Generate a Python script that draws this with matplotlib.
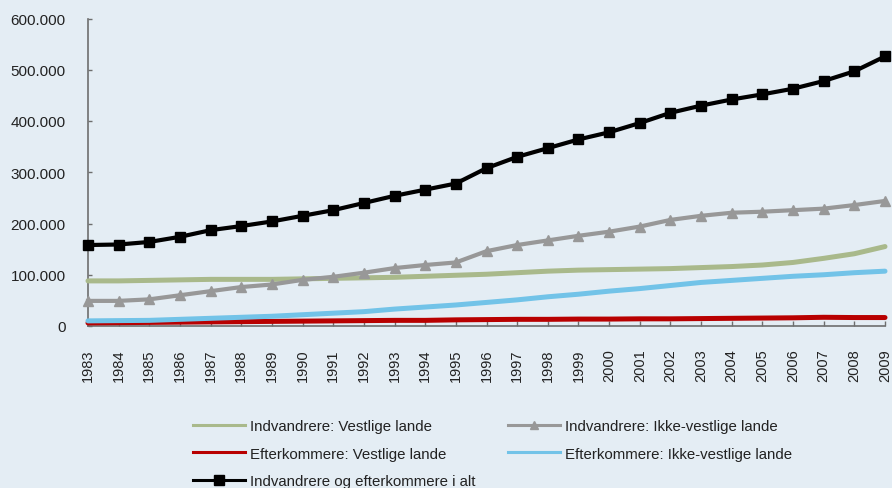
import matplotlib
matplotlib.use("Agg")
import matplotlib.pyplot as plt
from matplotlib.lines import Line2D
from matplotlib.ticker import FuncFormatter, MultipleLocator

years = list(range(1983, 2010))
total = [158, 159, 164, 174, 187, 195, 204, 215, 226, 240, 254, 266, 278, 308,
         330, 347, 364, 378, 396, 416, 430, 442, 452, 463, 478, 497, 526]
ikke_imm = [49, 49, 52, 60, 68, 76, 81, 90, 96, 104, 113, 119, 124, 146,
            158, 167, 176, 184, 194, 207, 215, 221, 223, 226, 229, 236, 244]
vest_imm = [88, 88, 89, 90, 91, 91, 91, 92, 93, 94, 95, 97, 99, 101,
            104, 107, 109, 110, 111, 112, 114, 116, 119, 124, 132, 141, 155]
ikke_eft = [10, 10.5, 11, 13, 15, 17, 19, 22, 25, 28, 33, 37, 41, 46,
            51, 57, 62, 68, 73, 79, 85, 89, 93, 97, 100, 104, 107]
vest_eft = [6, 6.5, 7, 7.5, 8, 8.5, 9, 9.5, 10, 10.5, 11, 11, 12, 12.5,
            13, 13, 13.5, 13.5, 14, 14, 14.5, 15, 15.5, 16, 17, 16.5, 16.5]

labels = ["Indvandrere: Vestlige lande", "Indvandrere: Ikke-vestlige lande",
          "Efterkommere: Vestlige lande", "Efterkommere: Ikke-vestlige lande",
          "Indvandrere og efterkommere i alt"]

BG = "#E4EDF4"
C_GREEN = "#A9B98B"
C_GRAY = "#989898"
C_RED = "#B80000"
C_BLUE = "#72C3E8"
C_BLACK = "#000000"
SPINE = "#6E6E6E"
TXT = "#222222"

plt.rcParams['font.family'] = ['Liberation Sans', 'DejaVu Sans']

fig = plt.figure(figsize=(8.92, 4.89), dpi=100, facecolor=BG)
ax = fig.add_axes([88/892, 1-327/489, (885-88)/892, (327-19.5)/489])
ax.set_facecolor(BG)

k = lambda v: [x * 1000 for x in v]

ax.plot(years, k(vest_imm), color=C_GREEN, lw=3.6, solid_capstyle='round', clip_on=False, zorder=3)
ax.plot(years, k(vest_eft), color=C_RED, lw=3.6, solid_capstyle='round', clip_on=False, zorder=3)
ax.plot(years, k(ikke_eft), color=C_BLUE, lw=3.6, solid_capstyle='round', clip_on=False, zorder=3)
ax.plot(years, k(ikke_imm), color=C_GRAY, lw=3.0, marker='^', ms=7.5, clip_on=False, zorder=4)
ax.plot(years, k(total), color=C_BLACK, lw=3.0, marker='s', ms=7, clip_on=False, zorder=5)

ax.set_xlim(1983, 2009)
ax.set_ylim(0, 600000)
ax.xaxis.set_major_locator(MultipleLocator(1))
ax.yaxis.set_major_locator(MultipleLocator(100000))
ax.yaxis.set_major_formatter(FuncFormatter(lambda v, p: f"{int(v):,}".replace(",", ".")))

for s in ['top', 'right']:
    ax.spines[s].set_visible(False)
for s in ['left', 'bottom']:
    ax.spines[s].set_color(SPINE)
    ax.spines[s].set_linewidth(1.2)

ax.tick_params(axis='x', direction='in', length=3.5, width=1, color=SPINE,
               labelsize=10.5, labelcolor=TXT, pad=16, labelrotation=90)
ax.tick_params(axis='y', direction='in', length=3, width=1, color=SPINE,
               labelsize=11, labelcolor=TXT, pad=16)

handles = [
    Line2D([], [], color=C_GREEN, lw=2.2),
    Line2D([], [], color=C_RED, lw=2.2),
    Line2D([], [], color=C_BLACK, lw=2.2, marker='s', ms=7),
    Line2D([], [], color=C_GRAY, lw=2.2, marker='^', ms=6),
    Line2D([], [], color=C_BLUE, lw=2.2),
]
hl = [labels[0], labels[2], labels[4], labels[1], labels[3]]
fig.legend(handles, hl, loc='upper left', bbox_to_anchor=(193/892, 1-420/489),
           ncol=2, frameon=False, fontsize=10.8, handlelength=3.45,
           handletextpad=0.35, columnspacing=2.15, labelspacing=0.9,
           borderpad=0, borderaxespad=0, labelcolor=TXT)

fig.savefig("out.png", dpi=100, facecolor=BG)
